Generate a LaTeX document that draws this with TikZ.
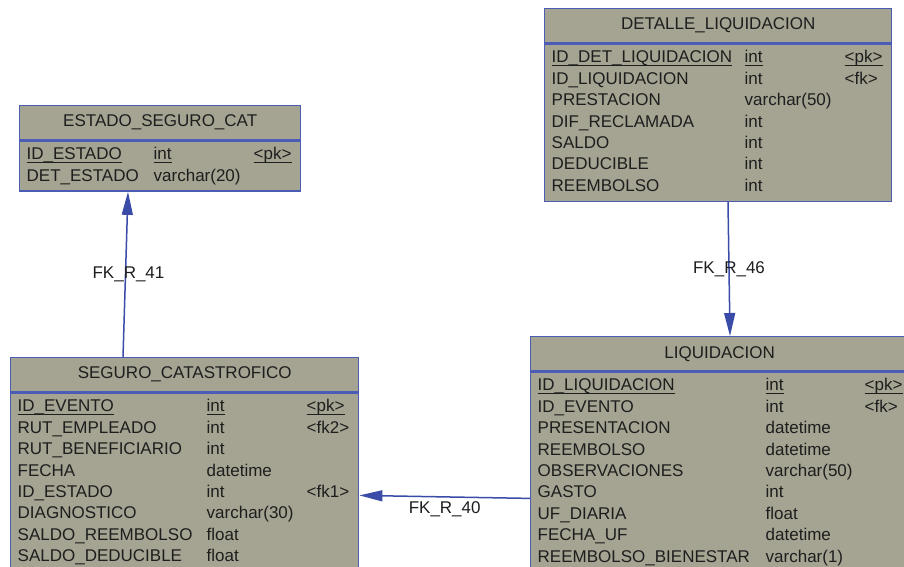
\documentclass[tikz,border=0pt]{standalone}
\usepackage{fontspec}
\setmainfont{Liberation Sans}
\usepackage{tikz}
\usetikzlibrary{arrows.meta, positioning, calc}
\definecolor{ertan}{HTML}{A5A391}
\definecolor{erblue}{HTML}{4A5CB4}
\definecolor{erlink}{HTML}{3A4CA8}
\definecolor{ertext}{HTML}{1E1E1E}
% primary key underline, level with the underscores
\newcommand{\pkul}[1]{\leavevmode\setbox0\hbox{#1}\rlap{\rule[-1.6pt]{\wd0}{0.45pt}}\box0}

\begin{document}
\begin{tikzpicture}[
    x=0.5pt, y=-0.5pt,
    every node/.style={font=\fontsize{8.5}{10.72}\selectfont, text=ertext},
    header/.style={rectangle, draw=erblue, fill=ertan, line width=0.7pt, minimum height=17pt, inner sep=0pt, anchor=north west},
    body/.style={rectangle, draw=erblue, fill=ertan, line width=0.7pt, inner xsep=3.5pt, inner ysep=1.8pt, anchor=north west},
    fk/.style={draw=erlink, line width=0.75pt, -{Triangle[length=11.5pt, width=5.5pt]}},
    fklabel/.style={inner sep=2pt}
]
\useasboundingbox (0,0) rectangle (904,567);
\clip (0,0) rectangle (904,567);
\fill[white] (0,0) rectangle (904,567);

% Tables
\node[header, minimum width=140.5pt] (estado) at (19,105) {ESTADO\_SEGURO\_CAT};
\node[body] (estadob) at (estado.south west) {%
\begin{tabular}{@{}p{63.5pt}@{}p{50pt}@{}p{20pt}@{}}
\pkul{ID\_ESTADO} & \pkul{int} & \pkul{<pk>}\\
DET\_ESTADO & varchar(20) & \\
\end{tabular}};

\node[header, minimum width=173.5pt] (detalle) at (544,8) {DETALLE\_LIQUIDACION};
\node[body] (detalleb) at (detalle.south west) {%
\begin{tabular}{@{}p{96.5pt}@{}p{50pt}@{}p{20pt}@{}}
\pkul{ID\_DET\_LIQUIDACION} & \pkul{int} & \pkul{<pk>}\\
ID\_LIQUIDACION & int & <fk>\\
PRESTACION & varchar(50) & \\
DIF\_RECLAMADA & int & \\
SALDO & int & \\
DEDUCIBLE & int & \\
REEMBOLSO & int & \\
\end{tabular}};

\node[header, minimum width=174pt] (seguro) at (10,357) {SEGURO\_CATASTROFICO};
\node[body] (segurob) at (seguro.south west) {%
\begin{tabular}{@{}p{94.5pt}@{}p{50pt}@{}p{22.5pt}@{}}
\pkul{ID\_EVENTO} & \pkul{int} & \pkul{<pk>}\\
RUT\_EMPLEADO & int & <fk2>\\
RUT\_BENEFICIARIO & int & \\
FECHA & datetime & \\
ID\_ESTADO & int & <fk1>\\
DIAGNOSTICO & varchar(30) & \\
SALDO\_REEMBOLSO & float & \\
SALDO\_DEDUCIBLE & float & \\
\end{tabular}};

\node[header, minimum width=189pt] (liquid) at (530,336) {LIQUIDACION};
\node[body] (liquidb) at (liquid.south west) {%
\begin{tabular}{@{}p{114pt}@{}p{49.5pt}@{}p{18.5pt}@{}}
\pkul{ID\_LIQUIDACION} & \pkul{int} & \pkul{<pk>}\\
ID\_EVENTO & int & <fk>\\
PRESENTACION & datetime & \\
REEMBOLSO & datetime & \\
OBSERVACIONES & varchar(50) & \\
GASTO & int & \\
UF\_DIARIA & float & \\
FECHA\_UF & datetime & \\
REEMBOLSO\_BIENESTAR & varchar(1) & \\
\end{tabular}};

% Arrows
\draw[fk] ([xshift=56.5pt]seguro.north west) -- node[fklabel, xshift=1.5pt] {FK\_R\_41} ([xshift=54.5pt]estadob.south west);
\draw[fk] ([xshift=92pt]detalleb.south west) -- node[fklabel] {FK\_R\_46} ([xshift=100pt]liquid.north west);
\draw[fk] ([yshift=-63.5pt]liquidb.north west) -- node[fklabel, below] {FK\_R\_40} ([yshift=-51.5pt]segurob.north east);

\end{tikzpicture}
\end{document}
